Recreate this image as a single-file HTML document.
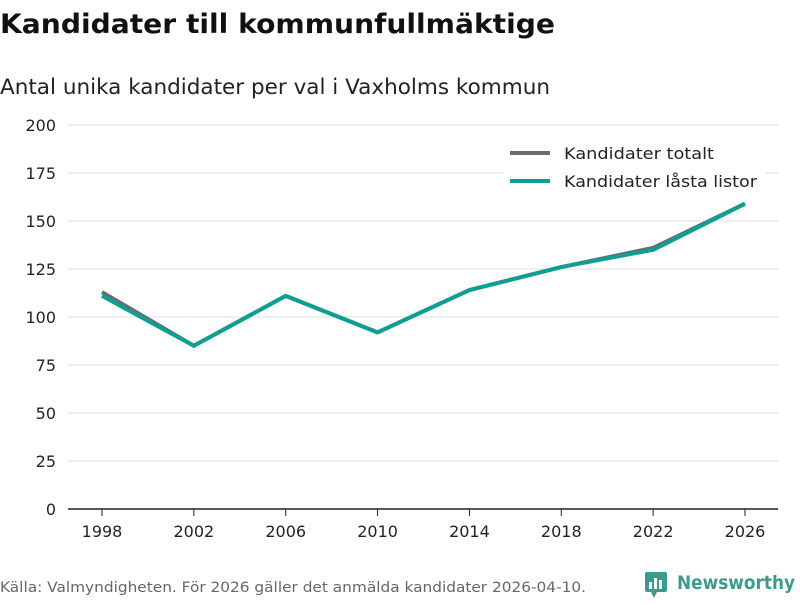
<!DOCTYPE html>
<html><head><meta charset="utf-8"><style>
body{margin:0;width:800px;height:600px;background:#fff;font-family:"Liberation Sans","DejaVu Sans",sans-serif;overflow:hidden}
</style></head><body>
<svg id="c" width="800" height="600" font-family="DejaVu Sans, Liberation Sans, sans-serif">
<text x="0" y="33" font-size="27" font-weight="bold" fill="#111" textLength="555" lengthAdjust="spacingAndGlyphs">Kandidater till kommunfullmäktige</text>
<text x="0" y="94" font-size="21" fill="#222" textLength="550" lengthAdjust="spacingAndGlyphs">Antal unika kandidater per val i Vaxholms kommun</text>
<g id="grid"></g><g id="xt"></g><g id="lines"></g>
<g>
<rect x="503" y="140" width="262" height="58" fill="#fff"/>
<line x1="510" y1="153" x2="550" y2="153" stroke="#6b6a70" stroke-width="4"/>
<text x="564" y="159" font-size="16" fill="#222" textLength="150" lengthAdjust="spacingAndGlyphs">Kandidater totalt</text>
<line x1="510" y1="181" x2="550" y2="181" stroke="#0f9e92" stroke-width="4"/>
<text x="564" y="187" font-size="16" fill="#222" textLength="193" lengthAdjust="spacingAndGlyphs">Kandidater låsta listor</text>
</g>
<text x="0" y="592" font-size="14.5" fill="#666" textLength="586" lengthAdjust="spacingAndGlyphs">Källa: Valmyndigheten. För 2026 gäller det anmälda kandidater 2026-04-10.</text>
<g>
<rect x="645" y="572" width="22" height="20" rx="2" fill="#3d9a8e"/>
<polygon points="651,592 657,592 654,598" fill="#3d9a8e"/>
<rect x="649" y="582" width="3" height="7" fill="#fff"/><rect x="654" y="578" width="3" height="11" fill="#fff"/><rect x="659" y="580" width="3" height="9" fill="#fff"/>
<text x="677" y="589" font-size="19" font-weight="bold" fill="#3d9a8e" textLength="118" lengthAdjust="spacingAndGlyphs">Newsworthy</text>
</g>
</svg>
<script>
const years=[1998,2002,2006,2010,2014,2018,2022,2026];
const totalt=[113,85,111,92,114,126,136,159];
const lasta=[111,85,111,92,114,126,135,159];
const yTicks=[0,25,50,75,100,125,150,175,200];
const NS="http://www.w3.org/2000/svg";
const X=y=>102+(y-1998)*(745-102)/28;
const Y=v=>509-v*1.92;
function mk(t,a,p){const e=document.createElementNS(NS,t);for(const k in a)e.setAttribute(k,a[k]);p.appendChild(e);return e;}
const g=document.getElementById('grid');
yTicks.forEach(v=>{
 const l=mk('line',{x1:68,x2:778,y1:Y(v),y2:Y(v),stroke:v===0?'#222':'#ddd','stroke-width':v===0?1.5:1},g);
 
 
 const t=mk('text',{x:56,y:Y(v)+6,'text-anchor':'end','font-size':16,fill:'#222'},g);t.textContent=v;
 
 
});
const xt=document.getElementById('xt');
years.forEach(yr=>{
 const l=mk('line',{x1:X(yr),x2:X(yr),y1:509,y2:516,stroke:'#222'},xt);
 
 
 const t=mk('text',{x:X(yr),y:537,'text-anchor':'middle','font-size':16,fill:'#222'},xt);t.textContent=yr;
 
 
});
const lg=document.getElementById('lines');
[[totalt,'#6b6a70','line-totalt'],[lasta,'#0f9e92','line-lasta']].forEach(([d,c,n])=>{
 const p=mk('polyline',{points:d.map((v,i)=>X(years[i])+','+Y(v)).join(' '),fill:'none',stroke:c,'stroke-width':4,'stroke-linejoin':'round'},lg);
 
 
});
</script>
</body></html>
